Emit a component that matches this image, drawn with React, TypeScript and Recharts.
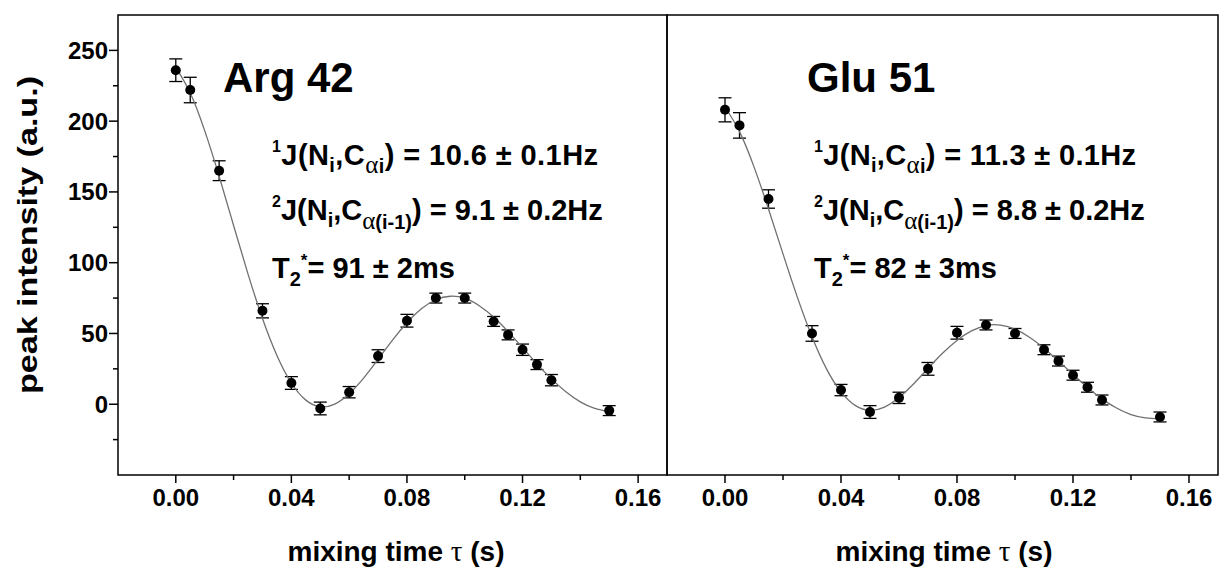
import React from 'react';
import { ComposedChart, Scatter, Line, XAxis, YAxis, ErrorBar, ReferenceArea } from 'recharts';

// measured mixing times (s)
const times = [0, 0.005, 0.015, 0.03, 0.04, 0.05, 0.06, 0.07, 0.08, 0.09, 0.1, 0.11, 0.115, 0.12, 0.125, 0.13, 0.15];
// Arg 42 peak intensities and errors
const argValues = [236, 222, 165, 66, 15, -3, 8.5, 34, 59, 75, 75, 58.5, 49, 38.5, 28, 17, -4.5];
const argErrors = [8, 9, 7, 5, 4.5, 4.5, 4, 4.5, 4.5, 3.5, 3.5, 3.5, 3.5, 4, 3.5, 4, 3.5];
// Glu 51 peak intensities and errors
const gluValues = [208, 197, 145, 50, 10, -5.5, 4.5, 25, 50.5, 56, 50, 38.5, 30.5, 20.5, 12, 3, -9];
const gluErrors = [8.5, 9, 6.5, 5.5, 4, 4.5, 4, 4.5, 4.5, 3.5, 3.5, 3.5, 3.5, 3.5, 3.5, 3.5, 3.5];
// fitted curves
const fitTimes = [0, 0.005, 0.01, 0.015, 0.02, 0.025, 0.03, 0.035, 0.04, 0.045, 0.05, 0.055, 0.06, 0.065, 0.07, 0.075, 0.08, 0.085, 0.09, 0.095, 0.1, 0.105, 0.11, 0.115, 0.12, 0.125, 0.13, 0.135, 0.14, 0.145, 0.15];
const argFit = [238, 219.9, 193.3, 161.1, 126.3, 91.9, 60.6, 34.5, 15.0, 2.9, -1.8, 0.1, 7.4, 18.5, 31.7, 45.3, 57.6, 67.4, 73.8, 76.3, 74.9, 69.6, 61.6, 51.3, 40.0, 28.5, 17.9, 8.8, 1.7, -3.0, -5.3];
const gluFit = [210, 192.6, 167.7, 137.9, 106.2, 75.3, 47.7, 25.0, 8.7, -1.0, -4.3, -2.0, 4.7, 14.3, 25.3, 36.0, 45.1, 51.8, 55.6, 55.9, 53.1, 47.3, 39.6, 30.5, 21.1, 11.8, 3.8, -2.7, -7.3, -9.7, -10.4];
// axes
const xTicks = [0, 0.02, 0.04, 0.06, 0.08, 0.1, 0.12, 0.14, 0.16];
const xTickLabels = ['0.00', '0.04', '0.08', '0.12', '0.16'];
const yTicks = [-25, 0, 25, 50, 75, 100, 125, 150, 175, 200, 225, 250];
const yTickLabels = ['0', '50', '100', '150', '200', '250'];
const xDomain = [-0.02, 0.17];
const yDomain = [-50, 275];

const FONT = '"Liberation Sans", Arial, Helvetica, sans-serif';
const SYM = '"Liberation Serif", "DejaVu Serif", serif';

const toPoints = (vals: number[], errs: number[]) => times.map((t, i) => ({ t, v: vals[i], e: errs[i] }));
const toFit = (vals: number[]) => fitTimes.map((t, i) => ({ t, v: vals[i] }));

const XTick = (props: any) => {
  const { x, y, index } = props;
  const major = index % 2 === 0;
  return (
    <g>
      <line x1={x} x2={x} y1={y} y2={y + (major ? 8 : 5)} stroke="#000" strokeWidth={1.5} />
      {major && (
        <text x={x} y={y + 31} textAnchor="middle" fontFamily={FONT} fontWeight="bold" fontSize={24} fill="#000">
          {xTickLabels[index / 2]}
        </text>
      )}
    </g>
  );
};

const YTick = (props: any) => {
  const { x, y, payload } = props;
  const v = payload.value;
  const major = v % 50 === 0;
  const idx = v / 50;
  return (
    <g>
      <line x1={x} x2={x - (major ? 9 : 5)} y1={y} y2={y} stroke="#000" strokeWidth={1.5} />
      {major && (
        <text x={x - 10} y={y + 8.5} textAnchor="end" fontFamily={FONT} fontWeight="bold" fontSize={24} fill="#000">
          {yTickLabels[idx]}
        </text>
      )}
    </g>
  );
};

const Dot = (props: any) => <circle cx={props.cx} cy={props.cy} r={5} fill="#000" />;

const Panel = ({ vals, errs, fit, showY }: { vals: number[]; errs: number[]; fit: number[]; showY: boolean }) => (
  <ComposedChart
    width={showY ? 680 : 620}
    height={570}
    margin={{ top: 15, right: showY ? 13 : 2, bottom: 35, left: 0 }}
  >
    <XAxis
      type="number"
      dataKey="t"
      domain={xDomain}
      ticks={xTicks}
      allowDataOverflow
      axisLine={false}
      tickLine={false}
      tickSize={0}
      tickMargin={0}
      height={60}
      tick={<XTick />}
      interval={0}
    />
    <YAxis
      type="number"
      dataKey="v"
      domain={yDomain}
      ticks={showY ? yTicks : []}
      allowDataOverflow
      axisLine={false}
      tickLine={false}
      tickSize={0}
      tickMargin={0}
      width={showY ? 118 : 67}
      tick={showY ? <YTick /> : false}
      interval={0}
    />
    <ReferenceArea x1={xDomain[0]} x2={xDomain[1]} y1={yDomain[0]} y2={yDomain[1]} stroke="#000" strokeWidth={1.5} fill="none" fillOpacity={0} />
    <Scatter data={toPoints(vals, errs)} dataKey="v" shape={<Dot />} isAnimationActive={false}>
      <ErrorBar dataKey="e" direction="y" width={6.5} stroke="#000" strokeWidth={1.3} />
    </Scatter>
    <Line data={toFit(fit)} dataKey="v" type="natural" stroke="#707070" strokeWidth={1.3} dot={false} activeDot={false} isAnimationActive={false} />
  </ComposedChart>
);

const B = { fontFamily: FONT, fontWeight: 'bold' as const, fill: '#000' };

const Annot = ({ x, w1, j1, j2, t2 }: { x: number; w1: number; j1: string; j2: string; t2: string }) => (
  <g>
    <text x={x} y={165} fontSize={29} textLength={w1} lengthAdjust="spacing" {...B}>
      <tspan fontSize={16} dy={-13}>1</tspan>
      <tspan dy={13}>J(N</tspan>
      <tspan fontSize={20} dy={7}>i</tspan>
      <tspan dy={-7}>,C</tspan>
      <tspan fontSize={25} dy={8} fontFamily={SYM} fontWeight="normal">α</tspan>
      <tspan fontSize={20}>i</tspan>
      <tspan dy={-8}>{') = ' + j1}</tspan>
    </text>
    <text x={x} y={220} fontSize={29} {...B}>
      <tspan fontSize={16} dy={-13}>2</tspan>
      <tspan dy={13}>J(N</tspan>
      <tspan fontSize={20} dy={7}>i</tspan>
      <tspan dy={-7}>,C</tspan>
      <tspan fontSize={25} dy={9} fontFamily={SYM} fontWeight="normal">α</tspan>
      <tspan fontSize={20}>(i-1)</tspan>
      <tspan dy={-9}>{') = ' + j2}</tspan>
    </text>
    <text x={x} y={278} fontSize={29} {...B}>
      <tspan>T</tspan>
      <tspan fontSize={20} dy={8}>2</tspan>
      <tspan fontSize={17} dy={-20}>*</tspan>
      <tspan dy={12}>{'= ' + t2}</tspan>
    </text>
  </g>
);

export default function App() {
  return (
    <div style={{ position: 'absolute', left: 0, top: 0, width: 1220, height: 570, background: '#fff', overflow: 'hidden' }}>
      <div style={{ position: 'absolute', left: 0, top: 0 }}>
        <Panel vals={argValues} errs={argErrors} fit={argFit} showY={true} />
      </div>
      <div style={{ position: 'absolute', left: 600, top: 0 }}>
        <Panel vals={gluValues} errs={gluErrors} fit={gluFit} showY={false} />
      </div>
      <svg width={1220} height={570} style={{ position: 'absolute', left: 0, top: 0, pointerEvents: 'none' }}>
        <text x={223} y={92} fontSize={42} {...B}>Arg 42</text>
        <text x={807} y={92} fontSize={42} {...B}>Glu 51</text>
        <Annot x={272} w1={326} j1="10.6 ± 0.1Hz" j2="9.1 ± 0.2Hz" t2="91 ± 2ms" />
        <Annot x={814} w1={322} j1="11.3 ± 0.1Hz" j2="8.8 ± 0.2Hz" t2="82 ± 3ms" />
        <text transform="translate(37,235) rotate(-90)" textAnchor="middle" fontSize={28} textLength={318} lengthAdjust="spacingAndGlyphs" {...B}>peak intensity (a.u.)</text>
        <text x={396} y={561} textAnchor="middle" fontSize={28} {...B}>
          mixing time <tspan fontFamily={SYM} fontWeight="normal" fontSize={29}>τ</tspan> (s)
        </text>
        <text x={944} y={561} textAnchor="middle" fontSize={28} {...B}>
          mixing time <tspan fontFamily={SYM} fontWeight="normal" fontSize={29}>τ</tspan> (s)
        </text>
      </svg>
    </div>
  );
}
